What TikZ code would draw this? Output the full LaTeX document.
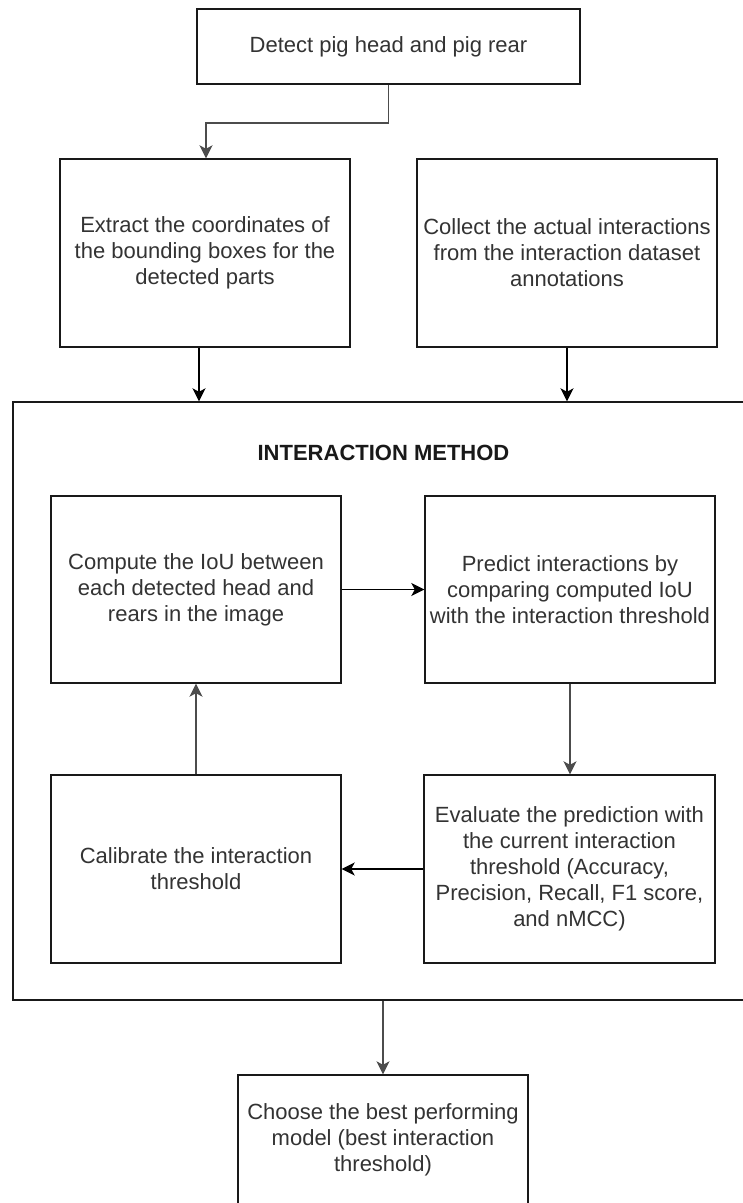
\documentclass[tikz,border=0pt]{standalone}
\usepackage{fontspec}
\setmainfont{Liberation Sans}
\usetikzlibrary{arrows.meta,calc}
\begin{document}
\begin{tikzpicture}[x=1pt,y=-1pt,
  box/.style={draw=black!90, line width=1.4pt, inner sep=0pt, align=center,
    text=black!80, font=\fontsize{22}{26}\selectfont},
  link/.style={line width=1.6pt, draw=black,
    -{Stealth[length=13pt,width=13pt,inset=3.5pt]}},
  greylink/.style={link, draw=black!70}]

% page frame
\useasboundingbox (0,0) rectangle (743,1203);
\fill[white] (0,0) rectangle (743,1203);
\clip (0,0) rectangle (743,1203);

% outer frame of the interaction method
\node[box, minimum width=750, minimum height=598] (method) at (388,701) {};
\node[font=\bfseries\fontsize{22}{26}\selectfont, text=black!90] (title) at (383.5,453) {INTERACTION METHOD};

% upper stage
\node[box, minimum width=383, minimum height=75] (top) at (388.5,46.5)
  {Detect pig head and pig rear};
\node[box, minimum width=290, minimum height=188] (extract) at (205,253)
  {Extract the coordinates of\\the bounding boxes for the\\detected parts};
\node[box, minimum width=300, minimum height=188] (collect) at (567,253)
  {Collect the actual interactions\\from the interaction dataset\\annotations};

% loop inside the method
\node[box, minimum width=290, minimum height=187] (compute) at (196,589.5)
  {Compute the IoU between\\each detected head and\\rears in the image};
\node[box, minimum width=290, minimum height=187] (predict) at (570,589.5)
  {Predict interactions by\\comparing computed IoU\\with the interaction threshold};
\node[box, minimum width=290, minimum height=188] (calibrate) at (196,869)
  {Calibrate the interaction\\threshold};
\node[box, minimum width=291, minimum height=188] (evaluate) at (569.5,869)
  {Evaluate the prediction with\\the current interaction\\threshold (Accuracy,\\Precision, Recall, F1 score,\\and nMCC)};

% final stage
\node[box, minimum width=290, minimum height=130] (choose) at (383,1140)
  {Choose the best performing\\model (best interaction\\threshold)};

% connectors
\draw[greylink] (top.south) -- ++(0,38) -| ([xshift=1pt]extract.north);
\draw[link] ([xshift=-6pt]extract.south) -- ([xshift=-6pt]extract.south |- method.north);
\draw[link] (collect.south) -- (collect.south |- method.north);
\draw[link] (compute.east) -- (predict.west);
\draw[greylink] (predict.south) -- (predict.south |- evaluate.north);
\draw[link] (evaluate.west) -- (evaluate.west -| calibrate.east);
\draw[greylink] (calibrate.north) -- (compute.south);
\draw[greylink] (choose.north |- method.south) -- (choose.north);
\end{tikzpicture}
\end{document}
